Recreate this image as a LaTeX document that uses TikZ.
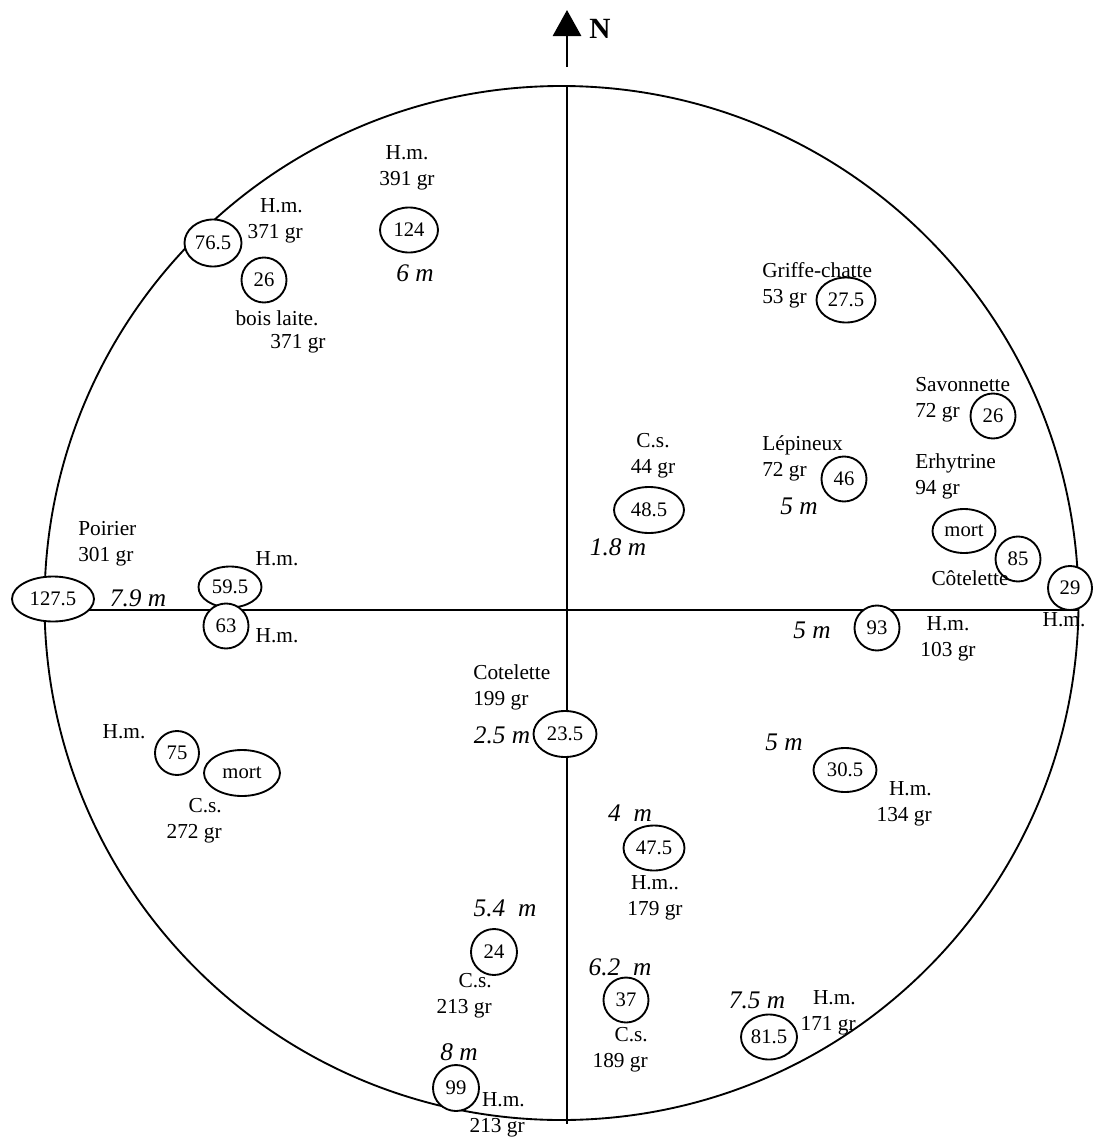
\documentclass[tikz,border=0pt]{standalone}
\usepackage{fontspec}
\setmainfont{Liberation Serif}
\usepackage{tikz}
\usetikzlibrary{shapes.geometric,arrows.meta}

\newcommand{\lblfont}{\fontsize{16}{19.5}\selectfont}
\newcommand{\numfont}{\fontsize{15.5}{18}\selectfont}
\newcommand{\distfont}{\fontsize{19}{23}\selectfont\itshape}

\tikzset{
  tree/.style={ellipse, draw, fill=white, line width=1.4pt, inner sep=0pt, font=\numfont},
  lbl/.style={font=\lblfont, inner sep=0pt},
  dist/.style={font=\distfont, inner sep=0pt}
}

\begin{document}
\begin{tikzpicture}[x=0.75pt, y=-0.75pt]
    \useasboundingbox (0,0) rectangle (1093,1142);

    % Plot outline and axes
    \draw[line width=1.4pt] (561.5,603) circle[radius=517];
    \coordinate (axN) at (567,86);
    \coordinate (axS) at (567,1124);
    \coordinate (axW) at (45,610);
    \coordinate (axE) at (1078,610);
    \draw[line width=1.3pt] (axN) -- (axS);
    \draw[line width=1.3pt] (axW) -- (axE);

    % North arrow
    \coordinate (ntail) at (567,67);
    \coordinate (ntip) at (567,10);
    \draw[line width=2.2pt, -{Triangle[width=21pt,length=19.5pt]}] (ntail) -- (ntip);
    \node[font=\fontsize{22}{24}\selectfont\bfseries, inner sep=0pt] (north) at (600,29) {N};

    % Trees (trunk size)
    \node[tree, minimum width=43.5pt, minimum height=33.75pt] (t124) at (409,230) {124};
    \node[tree, minimum width=42.75pt, minimum height=35.25pt] (t765) at (213,243) {76.5};
    \node[tree, minimum width=33.75pt, minimum height=33.75pt] (t26a) at (264,280) {26};
    \node[tree, minimum width=44.25pt, minimum height=33.75pt] (t275) at (846,300) {27.5};
    \node[tree, minimum width=33.75pt, minimum height=33.75pt] (t26b) at (993,416) {26};
    \node[tree, minimum width=33.75pt, minimum height=33.75pt] (t46) at (844,479) {46};
    \node[tree, minimum width=52.5pt, minimum height=34.5pt] (t485) at (649,510) {48.5};
    \node[tree, minimum width=47.25pt, minimum height=33pt] (tmorta) at (964,531) {mort};
    \node[tree, minimum width=33.75pt, minimum height=33.75pt] (t85) at (1018,559) {85};
    \node[tree, minimum width=33pt, minimum height=33pt] (t29) at (1070,588) {29};
    \node[tree, minimum width=33.75pt, minimum height=33.75pt] (t93) at (877,628) {93};
    \node[tree, minimum width=61.5pt, minimum height=33.75pt] (t1275) at (53,599) {127.5};
    \node[tree, minimum width=47.25pt, minimum height=30.75pt] (t595) at (230,587) {59.5};
    \node[tree, minimum width=33.75pt, minimum height=33.75pt] (t63) at (226,626) {63};
    \node[tree, minimum width=33pt, minimum height=33pt] (t75) at (177,753) {75};
    \node[tree, minimum width=57pt, minimum height=34.5pt] (tmortb) at (242,773) {mort};
    \node[tree, minimum width=47.25pt, minimum height=34.5pt] (t235) at (565,734) {23.5};
    \node[tree, minimum width=45.75pt, minimum height=33.75pt] (t475) at (654,848) {47.5};
    \node[tree, minimum width=47.25pt, minimum height=33pt] (t305) at (845,770) {30.5};
    \node[tree, minimum width=34.5pt, minimum height=34.5pt] (t24) at (494,952) {24};
    \node[tree, minimum width=33.75pt, minimum height=33.75pt] (t37) at (626,1000) {37};
    \node[tree, minimum width=42pt, minimum height=33.75pt] (t815) at (769,1037) {81.5};
    \node[tree, minimum width=34.5pt, minimum height=34.5pt] (t99) at (456,1088) {99};

    % Species and weights
    \node[lbl, align=center] (l124) at (407,168) {H.m.\\391 gr};
    \node[lbl, align=right, anchor=east] (l765) at (303,221) {H.m.\\371 gr};
    \node[lbl] (l26a) at (277,318) {bois laite.};
    \node[lbl] (l26agr) at (298,344) {371 gr};
    \node[lbl, align=left, anchor=west] (l275) at (762,285.5) {Griffe-chatte\\53 gr};
    \node[lbl, align=left, anchor=west] (l26b) at (915,400) {Savonnette\\72 gr};
    \node[lbl, align=left, anchor=west] (l46) at (762,458) {Lépineux\\72 gr};
    \node[lbl, align=left, anchor=west] (lerhy) at (915,476.5) {Erhytrine\\94 gr};
    \node[lbl, align=center] (l485) at (653,456) {C.s.\\44 gr};
    \node[lbl] (l85) at (970,578) {Côtelette};
    \node[lbl] (l29) at (1064,620) {H.m.};
    \node[lbl, align=center] (l93) at (948,638.5) {H.m.\\103 gr};
    \node[lbl, align=left, anchor=west] (l1275) at (78,544) {Poirier\\301 gr};
    \node[lbl] (l595) at (277,559) {H.m.};
    \node[lbl] (l63) at (277,636) {H.m.};
    \node[lbl] (l75) at (124,732) {H.m.};
    \node[lbl, align=right, anchor=east] (lmortb) at (222,820.5) {C.s.\\272 gr};
    \node[lbl, align=left, anchor=west] (l235) at (473,687.5) {Cotelette\\199 gr};
    \node[lbl, align=center] (l475) at (655,898) {H.m..\\179 gr};
    \node[lbl, align=right, anchor=east] (l305) at (932,803.5) {H.m.\\134 gr};
    \node[lbl, align=right, anchor=east] (l24) at (492,995.5) {C.s.\\213 gr};
    \node[lbl, align=right, anchor=east] (l37) at (648,1050) {C.s.\\189 gr};
    \node[lbl, align=right, anchor=east] (l815) at (856,1013) {H.m.\\171 gr};
    \node[lbl, align=right, anchor=east] (l99) at (525,1114.5) {H.m.\\213 gr};

    % Distances from the centre
    \node[dist] (d124) at (415,273) {6 m};
    \node[dist] (d485) at (618,547) {1.8 m};
    \node[dist] (d46) at (799,506) {5 m};
    \node[dist] (d1275) at (138,598) {7.9 m};
    \node[dist] (d93) at (812,630) {5 m};
    \node[dist] (d235) at (502,735) {2.5 m};
    \node[dist] (d305) at (784,742) {5 m};
    \node[dist] (d475) at (630,813) {4\ \ m};
    \node[dist] (d24) at (505,908) {5.4\ \ m};
    \node[dist] (d37) at (620,967) {6.2\ \ m};
    \node[dist] (d815) at (757,1000) {7.5 m};
    \node[dist] (d99) at (459,1052) {8 m};
\end{tikzpicture}
\end{document}
